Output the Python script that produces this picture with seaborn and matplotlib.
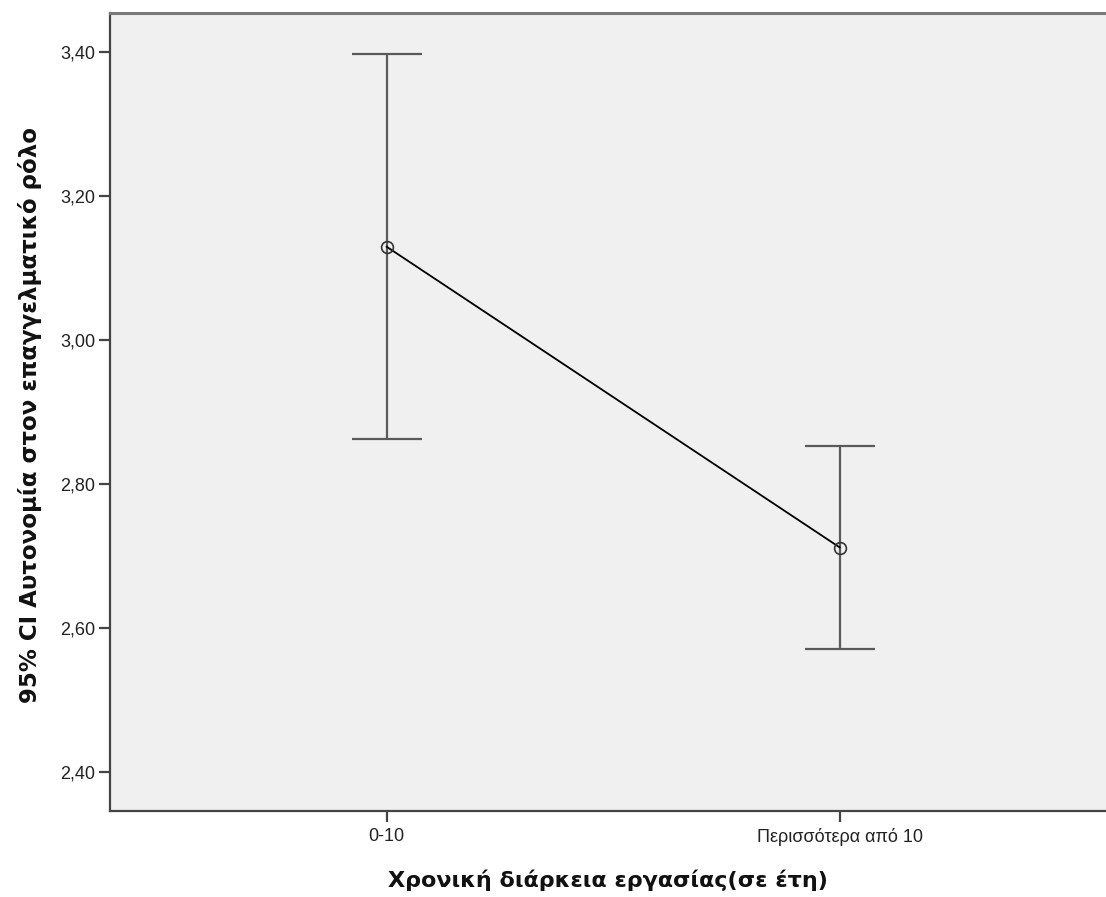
import numpy as np
import pandas as pd
import matplotlib
matplotlib.use("Agg")
import matplotlib.pyplot as plt
import seaborn as sns

# Data
categories = ["0-10", "Περισσότερα από 10"]
means = [3.130, 2.712]
ci_lower = [2.863, 2.571]
ci_upper = [3.398, 2.853]
yticks = [2.40, 2.60, 2.80, 3.00, 3.20, 3.40]
xlabel = "Χρονική διάρκεια εργασίας(σε έτη)"
ylabel = "95% CI Αυτονομία στον επαγγελματικό ρόλο"

sns.set_theme(style="white")
plt.rcParams['font.family'] = ['Liberation Sans', 'DejaVu Sans']

df = pd.DataFrame({"group": categories, "mean": means})

fig = plt.figure(figsize=(11.06, 8.97), dpi=100)
ax = fig.add_axes([110/1106, 1 - 811/897, 1 - 110/1106, (811-13)/897])
ax.set_facecolor("#F0F0F0")

means_a = np.array(means)
lo = means_a - np.array(ci_lower)
hi = np.array(ci_upper) - means_a
ax.errorbar(x=[0, 1], y=means, yerr=[lo, hi], fmt="none", ecolor="#5a5a5a",
            elinewidth=1.6, capsize=25, capthick=1.6, zorder=2)

sns.pointplot(data=df, x="group", y="mean", order=categories, errorbar=None,
              color="black", markers="o", linestyles="-", ax=ax,
              markersize=8.5, linewidth=1.3, zorder=3)
for line in ax.lines:
    if line.get_marker() == "o":
        line.set_markerfacecolor("none")
        line.set_markeredgecolor("#333333")
        line.set_markeredgewidth(1.2)

ax.set_xlim(-0.610, 1.587)
ax.set_ylim(2.346, 3.4546)
ax.set_yticks(yticks)
ax.set_yticklabels([f"{v:.2f}".replace(".", ",") for v in yticks])
ax.set_xticks([0, 1])
ax.set_xticklabels(categories)

ax.tick_params(axis="both", which="major", direction="out", length=8, width=1.6,
               color="#444444", labelsize=13, labelcolor="#222222", left=True, bottom=True)
ax.tick_params(axis="x", pad=4)
ax.tick_params(axis="y", pad=2.5)

for s in ["left", "bottom"]:
    ax.spines[s].set_color("#444444")
    ax.spines[s].set_linewidth(1.6)
ax.spines["top"].set_color("#7a7a7a")
ax.spines["top"].set_linewidth(2.2)
ax.spines["right"].set_visible(False)

ax.set_xlabel(xlabel, fontsize=16, fontweight="bold", family=["DejaVu Sans"], color="#111111")
ax.set_ylabel(ylabel, fontsize=16.5, fontweight="bold", family=["DejaVu Sans"], color="#111111")
ax.xaxis.set_label_coords(0.5, -0.0865)
ax.xaxis.label.set_va("center")
ax.yaxis.set_label_coords(-0.080, 0.496)
ax.yaxis.label.set_va("center")

fig.savefig("out.png", dpi=100)
